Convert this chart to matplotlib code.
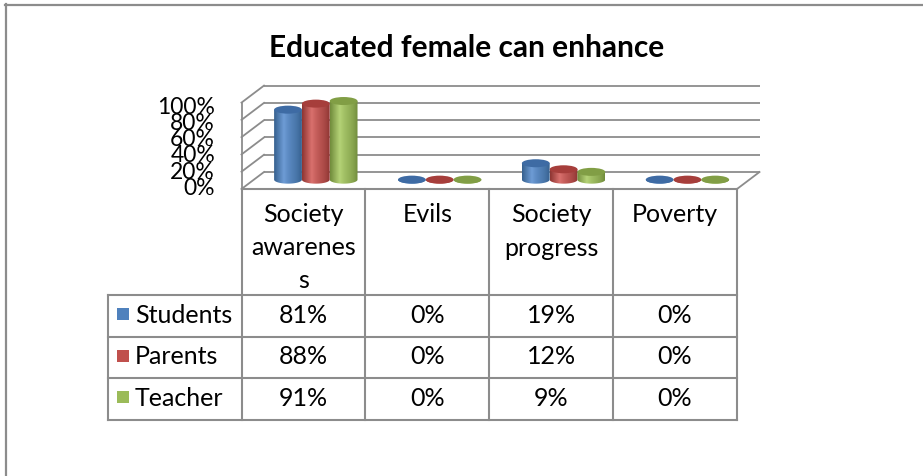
import numpy as np
import matplotlib
matplotlib.use("Agg")
import matplotlib.pyplot as plt
from matplotlib.patches import Ellipse, PathPatch, Rectangle
from matplotlib.path import Path
from matplotlib.colors import to_rgb

# ---- data -------------------------------------------------------------
header_lines = [["Society", "awarenes", "s"], ["Evils"], ["Society", "progress"], ["Poverty"]]
series_names = ["Students", "Parents", "Teacher"]
students = [81, 0, 19, 0]
parents = [88, 0, 12, 0]
teacher = [91, 0, 9, 0]
values = [students, parents, teacher]
y_ticks = [0, 20, 40, 60, 80, 100]
title = "Educated female can enhance"

# ---- styling ----------------------------------------------------------
FONT = "Lato"
GRID = "#8C8C8C"
body_mid = ["#4F81BD", "#C0504D", "#9BBB59"]
body_hi = ["#6E9CD6", "#DA716E", "#B5D377"]
body_edge = ["#36618F", "#8E3532", "#718C3C"]
top_col = ["#3E6BA4", "#A63E3B", "#819E45"]

fig = plt.figure(figsize=(9.23, 4.77), dpi=100)
ax = fig.add_axes([0, 0, 1, 1])
ax.set_xlim(0, 923)
ax.set_ylim(477, 0)
ax.axis("off")

# ---- 3D frame geometry (oblique projection, pixel units) --------------
x_left, x_right = 241.5, 737.0
y_floor = 190.0
px_per_pct = 0.864
depth_dx, depth_dy = 22.5, -17.0


def proj(x, v, d):
    """Front-plane x, value v (%), depth fraction d -> screen point."""
    return x + depth_dx * d, y_floor - v * px_per_pct + depth_dy * d


lw = 1.3
# back wall gridlines and left wall diagonals
for v in y_ticks:
    bx0, by = proj(x_left, v, 1)
    bx1, _ = proj(x_right, v, 1)
    ax.plot([bx0, bx1], [by, by], color=GRID, lw=lw, solid_capstyle="butt", zorder=1)
    fx, fy = proj(x_left, v, 0)
    ax.plot([fx, bx0], [fy, by], color=GRID, lw=lw, zorder=1)
# floor right edge
ax.plot([x_right, proj(x_right, 0, 1)[0]], [y_floor, proj(x_right, 0, 1)[1]],
        color=GRID, lw=lw, zorder=1)
# front left vertical edge
ax.plot([x_left, x_left], [proj(x_left, 100, 0)[1], y_floor], color=GRID, lw=lw, zorder=1)

# y tick labels
for v in y_ticks:
    ax.text(215, 188.5 - v * 0.815, f"{v}%", ha="right", va="center",
            fontsize=16.5, family=FONT, color="black")


# ---- cylinders --------------------------------------------------------
def shade_row(i, n=60):
    t = np.linspace(0, 1, n)
    mid = np.array(to_rgb(body_mid[i]))
    hi = np.array(to_rgb(body_hi[i]))
    ed = np.array(to_rgb(body_edge[i]))
    out = np.zeros((1, n, 3))
    for k, tt in enumerate(t):
        if tt < 0.35:
            f = tt / 0.35
            c = ed * (1 - f) + hi * f
        else:
            f = (tt - 0.35) / 0.65
            c = hi * (1 - f) + ed * f
            c = c * (1 - 0.25 * np.sin(np.pi * f)) + mid * 0.25 * np.sin(np.pi * f)
        out[0, k] = c
    return out


def cylinder(cx, base_y, h, w, eh, i):
    top_y = base_y - h
    th = np.linspace(np.pi, 2 * np.pi, 40)
    arc = np.column_stack([cx + w / 2 * np.cos(th), base_y - eh / 2 * np.sin(th)])
    verts = [(cx - w / 2, top_y)] + arc.tolist() + [(cx + w / 2, top_y), (cx - w / 2, top_y)]
    codes = [Path.MOVETO] + [Path.LINETO] * (len(verts) - 2) + [Path.CLOSEPOLY]
    body = PathPatch(Path(verts, codes), facecolor="none", edgecolor="none", zorder=3)
    ax.add_patch(body)
    im = ax.imshow(shade_row(i), extent=(cx - w / 2, cx + w / 2, base_y + eh / 2 + 1, top_y - 1),
                   aspect="auto", interpolation="bilinear", zorder=3)
    im.set_clip_path(body)
    ax.add_patch(Ellipse((cx, top_y), w, eh, facecolor=top_col[i], edgecolor="none", zorder=4))


slot = (x_right - x_left) / len(header_lines)
cyl_w = 27.8
cyl_eh = 8.0
depth_mid = 0.55
for c in range(len(header_lines)):
    center_front = x_left + slot * (c + 0.5)
    for s in range(len(series_names)):
        cx_front = center_front + (s - 1) * cyl_w
        cx, base_y = proj(cx_front, 0, depth_mid)
        cylinder(cx, base_y, values[s][c] * px_per_pct, cyl_w, cyl_eh, s)

# ---- data table -------------------------------------------------------
tab_left = 107.5
col_x = [x_left + slot * k for k in range(len(header_lines) + 1)]
row_y = [296.0, 337.5, 379.0, 420.5]
tlw = 1.5
for x in col_x:
    ax.plot([x, x], [y_floor, row_y[-1]], color=GRID, lw=tlw, zorder=2)
ax.plot([tab_left, tab_left], [row_y[0], row_y[-1]], color=GRID, lw=tlw, zorder=2)
ax.plot([x_left, x_right], [y_floor, y_floor], color=GRID, lw=tlw, zorder=2)
for y in row_y:
    ax.plot([tab_left, x_right], [y, y], color=GRID, lw=tlw, zorder=2)

fs = 18
for c, lines in enumerate(header_lines):
    xc = (col_x[c] + col_x[c + 1]) / 2
    for k, line in enumerate(lines):
        ax.text(xc, 215 + 33 * k, line, ha="center", va="center", fontsize=fs, family=FONT)

for s, name in enumerate(series_names):
    yc = (row_y[s] + row_y[s + 1]) / 2 - 1.5
    ax.add_patch(Rectangle((117, yc - 6), 12, 12, facecolor=body_mid[s], edgecolor="none"))
    ax.text(135, yc, name, ha="left", va="center", fontsize=fs, family=FONT)
    for c in range(len(header_lines)):
        xc = (col_x[c] + col_x[c + 1]) / 2
        ax.text(xc, yc, f"{values[s][c]}%", ha="center", va="center", fontsize=fs, family=FONT)

# ---- title and outer frame ------------------------------------------
ax.text(467, 48, title, ha="center", va="center", fontsize=21.5, fontweight="bold", family=FONT)
ax.plot([5, 923], [5.5, 5.5], color=GRID, lw=1.6)
ax.plot([5.5, 5.5], [5, 477], color=GRID, lw=1.6)

fig.savefig("out.png", dpi=100)
